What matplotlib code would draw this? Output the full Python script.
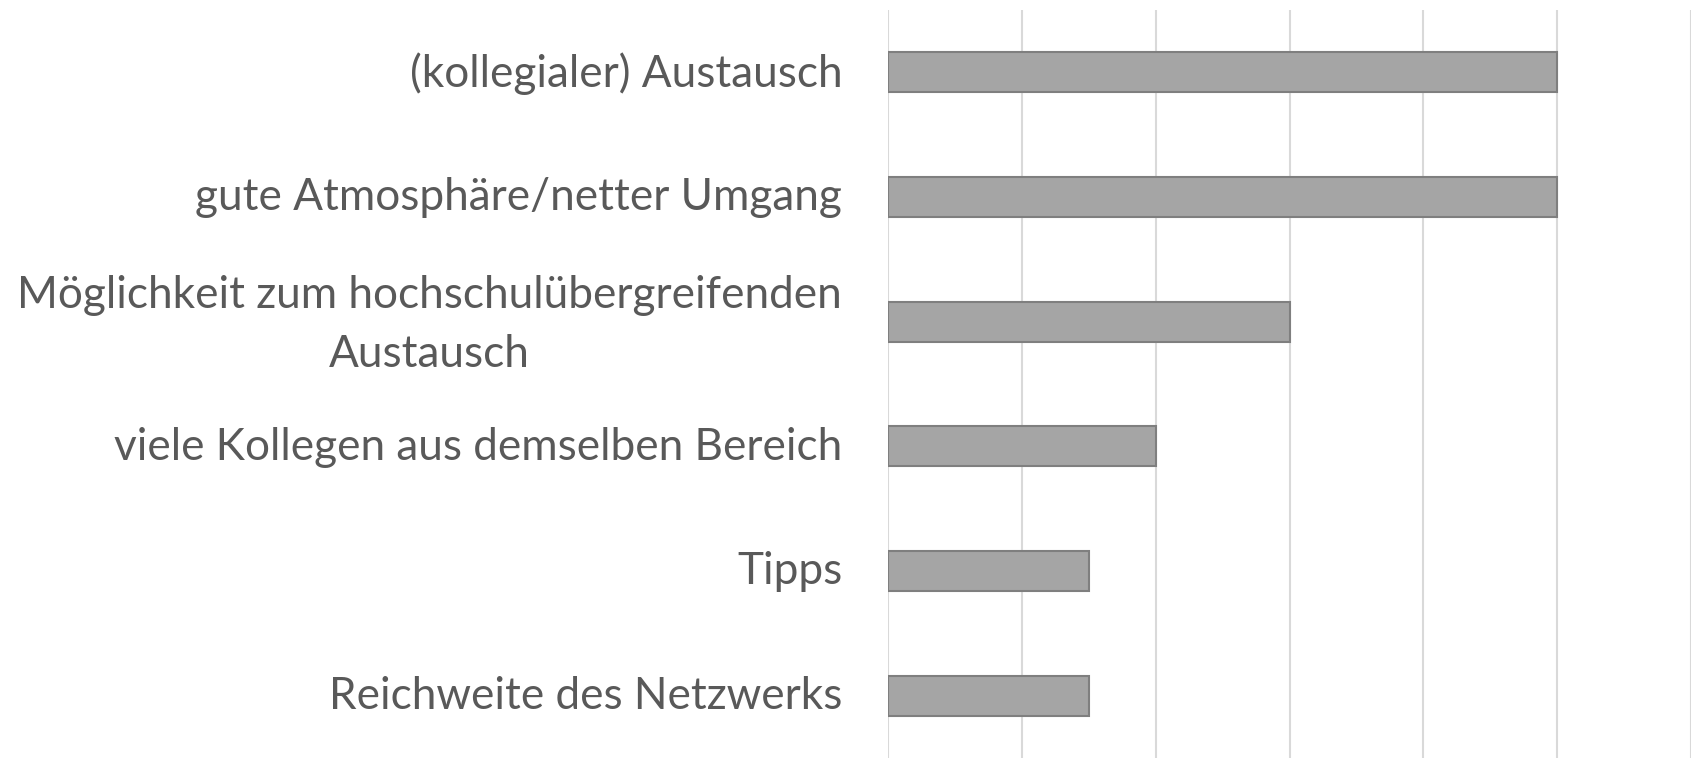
import matplotlib.pyplot as plt
from matplotlib import transforms

categories = ["(kollegialer) Austausch",
              "gute Atmosphäre/netter Umgang",
              "Möglichkeit zum hochschulübergreifenden\nAustausch",
              "viele Kollegen aus demselben Bereich",
              "Tipps",
              "Reichweite des Netzwerks"]
values = [10, 10, 6, 4, 3, 3]

plt.rcParams['font.family'] = ['Lato', 'DejaVu Sans']

fig = plt.figure(figsize=(16.92, 7.58), dpi=100)
ax = fig.add_axes([888 / 1692, 0.0, 803 / 1692, 1 - 10 / 758])

pos = list(range(len(categories)))
ax.barh(pos, values, height=0.32, color='#a5a5a5', edgecolor='#7f7f7f', linewidth=1.5, zorder=3)
ax.set_ylim(len(categories) - 0.5, -0.5)
ax.set_xlim(0, 12)
ax.set_xticks(range(0, 13, 2))
ax.set_xticklabels([])
ax.tick_params(axis='x', length=0)
ax.grid(axis='x', color='#d9d9d9', linewidth=1.5, zorder=0)

ax.set_yticks(pos)
labels = ax.set_yticklabels(categories, fontsize=31.8, color='#595959',
                            multialignment='center', linespacing=1.55)
ax.tick_params(axis='y', length=0, pad=33)

# nudge labels up a little (two-line one more)
for lab in labels:
    dy = 10 if '\n' in lab.get_text() else 3
    lab.set_transform(lab.get_transform() + transforms.ScaledTranslation(0, dy / 100, fig.dpi_scale_trans))

for s in ax.spines.values():
    s.set_visible(False)

fig.savefig('out.png', dpi=100)
